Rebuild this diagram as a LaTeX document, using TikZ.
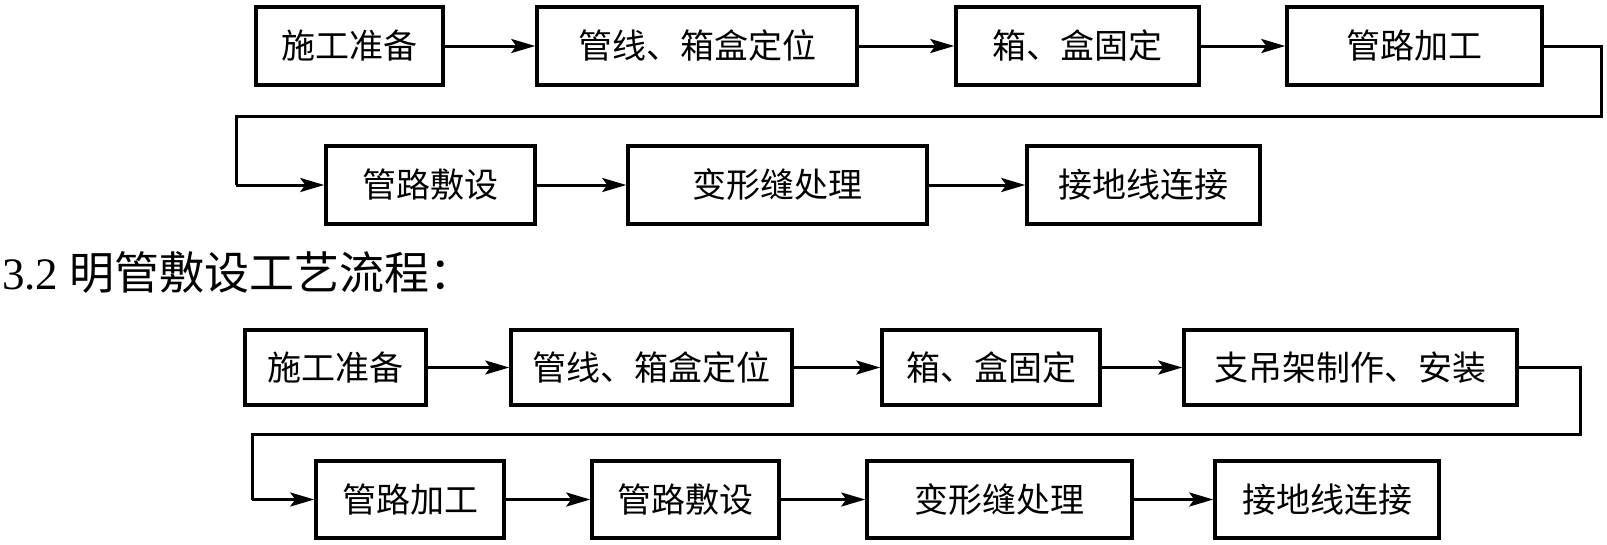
\documentclass[tikz,border=0pt]{standalone}
\usepackage{fontspec}
\setmainfont{Liberation Serif}
\newfontfamily\cjk{Noto Sans CJK SC}
\usetikzlibrary{arrows.meta}
\tikzset{
  flowbox/.style={draw=black, line width=3.5pt, inner sep=0pt, font=\cjk\fontsize{34}{40}\selectfont, text=black},
  flowarrow/.style={line width=3pt, -{Stealth[length=24pt,width=14pt,inset=5pt]}},
  elbow/.style={line width=3pt}
}
\begin{document}
\begin{tikzpicture}[x=1pt,y=-1pt]
\useasboundingbox (0,0) rectangle (1607,544);
% Row 1
\node[flowbox, minimum width=187pt, minimum height=78pt] (a1) at (349.5,46) {施工准备};
\node[flowbox, minimum width=320pt, minimum height=78pt] (a2) at (697,46) {管线、箱盒定位};
\node[flowbox, minimum width=243pt, minimum height=78pt] (a3) at (1077.5,46) {箱、盒固定};
\node[flowbox, minimum width=255pt, minimum height=78pt] (a4) at (1414.5,46) {管路加工};
% Row 2
\node[flowbox, minimum width=209pt, minimum height=78pt] (b1) at (430.5,185) {管路敷设};
\node[flowbox, minimum width=299pt, minimum height=78pt] (b2) at (777.5,185) {变形缝处理};
\node[flowbox, minimum width=233pt, minimum height=78pt] (b3) at (1143.5,185) {接地线连接};
% Heading
\node[anchor=west, inner sep=0pt, font=\fontsize{45}{54}\selectfont] (head) at (2,272) {3.2 {\cjk 明管敷设工艺流程：}};
% Row 3
\node[flowbox, minimum width=181pt, minimum height=75pt] (c1) at (335.5,367.5) {施工准备};
\node[flowbox, minimum width=281pt, minimum height=75pt] (c2) at (651.5,367.5) {管线、箱盒定位};
\node[flowbox, minimum width=218pt, minimum height=75pt] (c3) at (991,367.5) {箱、盒固定};
\node[flowbox, minimum width=333pt, minimum height=75pt] (c4) at (1350.5,367.5) {支吊架制作、安装};
% Row 4
\node[flowbox, minimum width=188pt, minimum height=77pt] (d1) at (410,499.5) {管路加工};
\node[flowbox, minimum width=187pt, minimum height=77pt] (d2) at (685.5,499.5) {管路敷设};
\node[flowbox, minimum width=265pt, minimum height=77pt] (d3) at (999.5,499.5) {变形缝处理};
\node[flowbox, minimum width=224pt, minimum height=77pt] (d4) at (1327,499.5) {接地线连接};
% Elbow coordinates
\coordinate (r1) at (1601,46);
\coordinate (r2) at (1601,116);
\coordinate (r3) at (236,116);
\coordinate (r4) at (236,185);
\coordinate (s1) at (1580,367.5);
\coordinate (s2) at (1580,434);
\coordinate (s3) at (252,434);
\coordinate (s4) at (252,499.5);
% Connectors
\draw[flowarrow] (a1) -- (a2);
\draw[flowarrow] (a2) -- (a3);
\draw[flowarrow] (a3) -- (a4);
\draw[elbow] (a4.east) -- (r1) -- (r2) -- (r3) -- (r4);
\draw[flowarrow] (r4) -- (b1.west);
\draw[flowarrow] (b1) -- (b2);
\draw[flowarrow] (b2) -- (b3);
\draw[flowarrow] (c1) -- (c2);
\draw[flowarrow] (c2) -- (c3);
\draw[flowarrow] (c3) -- (c4);
\draw[elbow] (c4.east) -- (s1) -- (s2) -- (s3) -- (s4);
\draw[flowarrow] (s4) -- (d1.west);
\draw[flowarrow] (d1) -- (d2);
\draw[flowarrow] (d2) -- (d3);
\draw[flowarrow] (d3) -- (d4);
\end{tikzpicture}
\end{document}
